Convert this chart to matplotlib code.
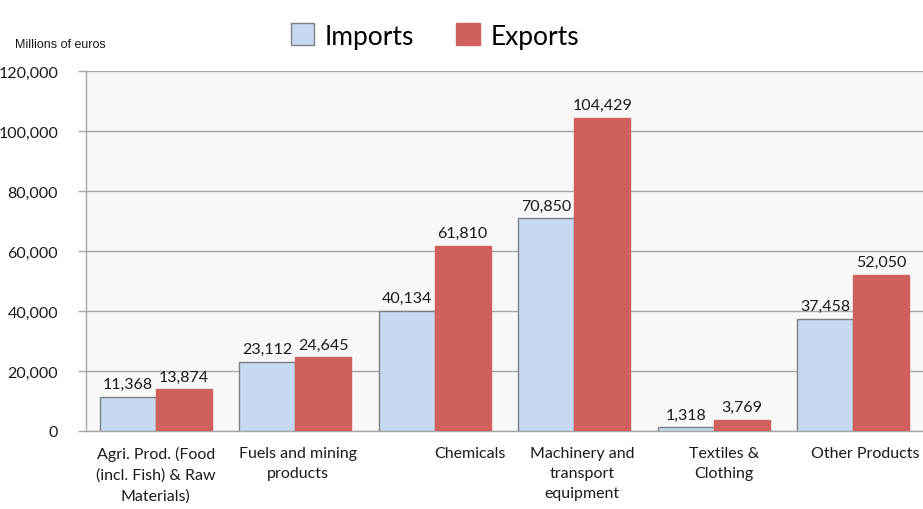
import matplotlib
matplotlib.use("Agg")
import matplotlib.pyplot as plt
import matplotlib.transforms as mtransforms
import numpy as np

categories = ["Agri. Prod. (Food\n(incl. Fish) & Raw\nMaterials)",
              "Fuels and mining\nproducts",
              "Chemicals",
              "Machinery and\ntransport\nequipment",
              "Textiles &\nClothing",
              "Other Products"]
imports = [11368, 23112, 40134, 70850, 1318, 37458]
exports = [13874, 24645, 61810, 104429, 3769, 52050]
yticks = [0, 20000, 40000, 60000, 80000, 100000, 120000]
label_shift_px = [0, 3, 35, 8, 10, 12]

plt.rcParams['font.family'] = ['Lato', 'DejaVu Sans']

fig = plt.figure(figsize=(9.23, 5.10), dpi=100)
ax = fig.add_axes([86/923, 1-432/510, 1-86/923, (432-72)/510])
ax.set_facecolor('#f8f8f8')
fig.patch.set_facecolor('white')

x = np.arange(len(categories))
w = 0.4
b1 = ax.bar(x - w/2, imports, w, color='#c6d9f0', edgecolor='#7f7f7f', linewidth=1, label='Imports', zorder=3)
b2 = ax.bar(x + w/2, exports, w, color='#d0605e', edgecolor='#d0605e', linewidth=1, label='Exports', zorder=3)

for bars, vals in ((b1, imports), (b2, exports)):
    for r, v in zip(bars, vals):
        ax.annotate(f"{v:,}", (r.get_x() + r.get_width()/2, v), xytext=(0, 4),
                    textcoords='offset points', ha='center', va='bottom',
                    fontsize=11.5, color='#1a1a1a')

ax.set_xlim(-0.5, len(categories) - 0.5)
ax.set_ylim(0, 120000)
ax.set_yticks(yticks)
ax.set_yticklabels([f"{t:,}" for t in yticks], fontsize=11.5, color='#1a1a1a')
ax.yaxis.grid(True, color='#a6a6a6', linewidth=1, zorder=0)
ax.set_xticks(x)
ax.set_xticklabels(categories, fontsize=11.5, color='#1a1a1a', linespacing=1.55)
ax.tick_params(axis='x', length=0, pad=11)
ax.tick_params(axis='y', length=6, width=1, color='#a6a6a6', pad=14)
for lbl, s in zip(ax.get_xticklabels(), label_shift_px):
    lbl.set_transform(lbl.get_transform() + mtransforms.ScaledTranslation(s/100, 0, fig.dpi_scale_trans))

for side in ['top', 'right']:
    ax.spines[side].set_visible(False)
for side in ['left', 'bottom']:
    ax.spines[side].set_color('#a6a6a6')
    ax.spines[side].set_linewidth(1)

fig.text(15/923, 1-45/510, "Millions of euros", fontsize=9, color='#1a1a1a',
         family=['Liberation Sans Narrow', 'Liberation Sans', 'DejaVu Sans'], va='center')

leg = fig.legend(handles=[b1, b2], loc='center', bbox_to_anchor=(435/923, 1-37/510),
                 ncol=2, frameon=False, fontsize=19, handlelength=0.9, handleheight=0.9,
                 handletextpad=0.4, columnspacing=1.6)

fig.savefig("out.png", dpi=100)
